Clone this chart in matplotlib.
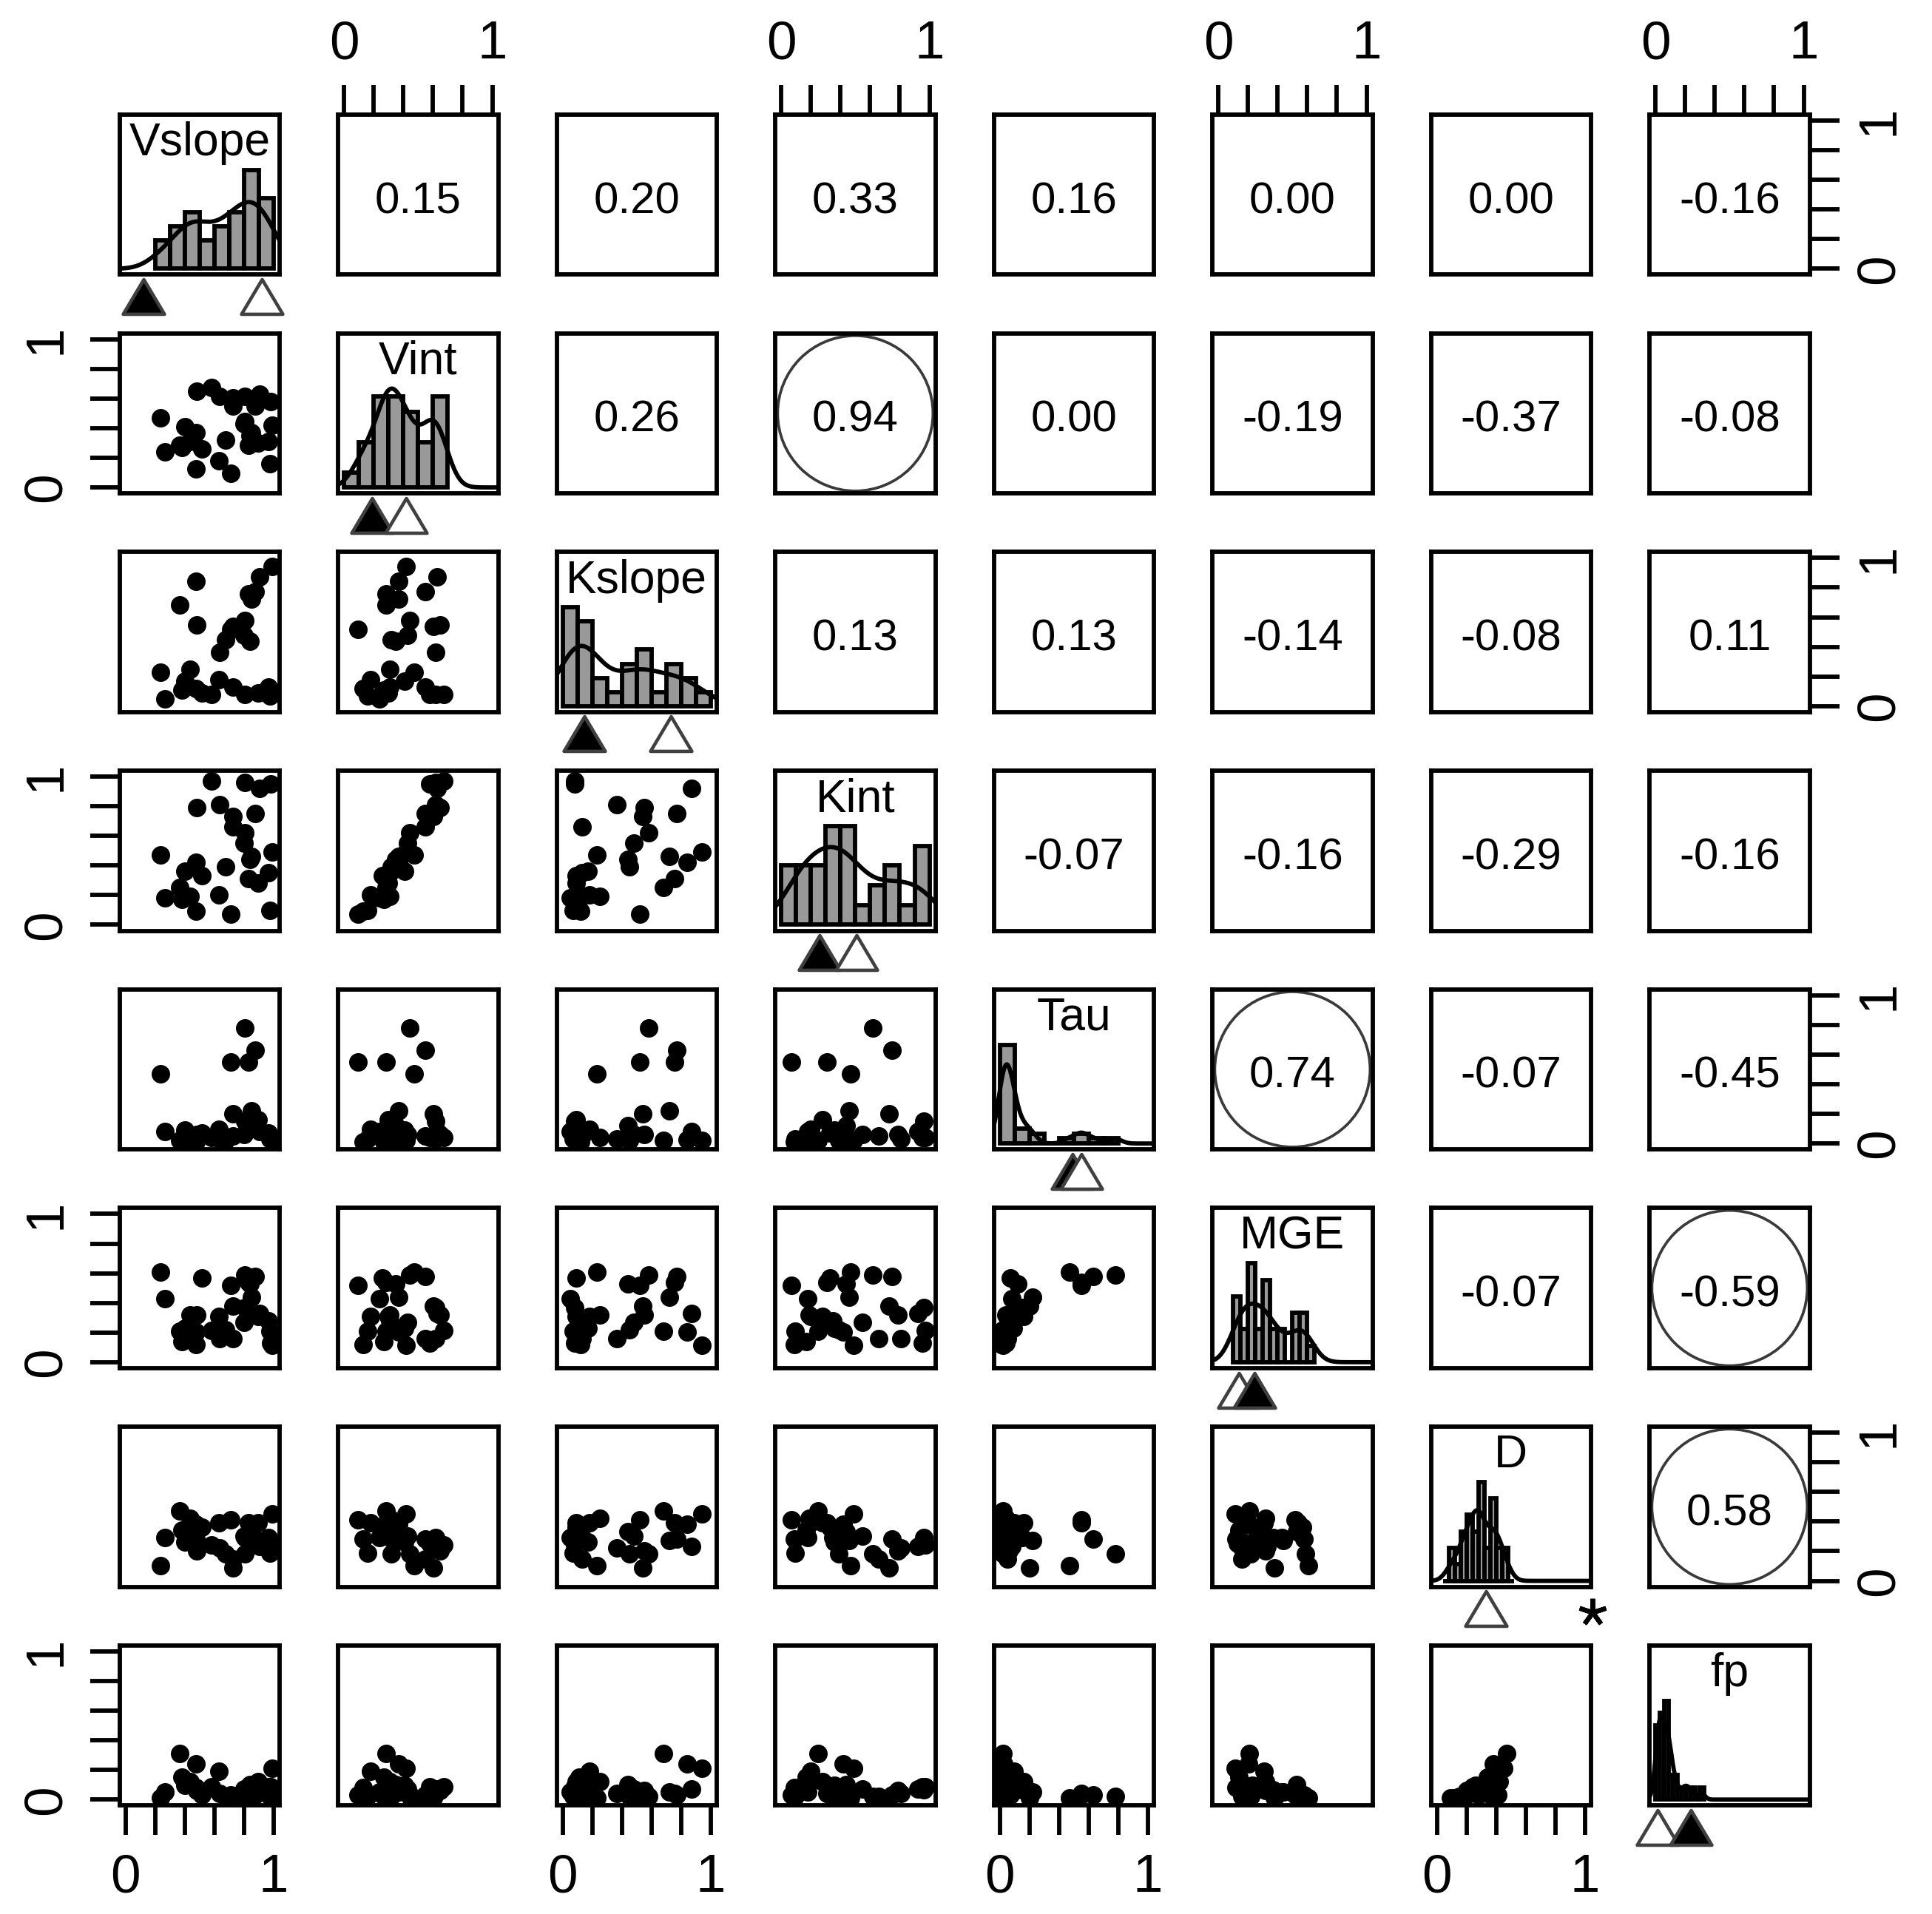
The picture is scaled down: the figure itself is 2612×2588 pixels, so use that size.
import numpy as np
import matplotlib
matplotlib.use("Agg")
import matplotlib.pyplot as plt
import matplotlib.transforms as mtransforms
from matplotlib.patches import Circle
from matplotlib.path import Path

plt.rcParams['font.family'] = ['Liberation Sans', 'DejaVu Sans']

nombres = ["Vslope", "Vint", "Kslope", "Kint", "Tau", "MGE", "D", "fp"]

# valores normalizados (0-1), 30 muestras
vslope = [0.234, 0.267, 0.367, 0.40, 0.434, 0.475, 0.475, 0.483, 0.517, 0.583,
          0.628, 0.633, 0.674, 0.708, 0.724, 0.724, 0.80, 0.807, 0.807, 0.832,
          0.84, 0.874, 0.907, 0.895, 0.965, 0.973, 0.982, 0.99, 0.383, 0.85]
vint = [0.471, 0.24, 0.286, 0.41, 0.31, 0.37, 0.127, 0.648, 0.26, 0.675,
        0.18, 0.616, 0.32, 0.093, 0.603, 0.55, 0.43, 0.616, 0.444, 0.286,
        0.35, 0.55, 0.63, 0.30, 0.31, 0.16, 0.577, 0.42, 0.27, 0.37]
kslope = [0.23, 0.05, 0.68, 0.17, 0.25, 0.84, 0.12, 0.55, 0.09, 0.08,
          0.18, 0.365, 0.45, 0.52, 0.54, 0.13, 0.48, 0.08, 0.58, 0.755,
          0.44, 0.77, 0.87, 0.09, 0.13, 0.07, 0.08, 0.94, 0.11, 0.72]
kint = [0.47, 0.18, 0.25, 0.36, 0.19, 0.42, 0.09, 0.79, 0.33, 0.97,
        0.20, 0.81, 0.39, 0.07, 0.73, 0.66, 0.55, 0.96, 0.62, 0.31,
        0.44, 0.75, 0.92, 0.28, 0.35, 0.095, 0.95, 0.49, 0.17, 0.46]
tau = [0.47, 0.08, 0.02, 0.09, 0.04, 0.025, 0.01, 0.06, 0.07, 0.04,
       0.095, 0.03, 0.02, 0.55, 0.20, 0.05, 0.06, 0.15, 0.78, 0.55,
       0.12, 0.63, 0.08, 0.16, 0.07, 0.03, 0.04, 0.02, 0.01, 0.22]
mge = [0.61, 0.43, 0.21, 0.23, 0.32, 0.205, 0.12, 0.32, 0.57, 0.215,
       0.31, 0.16, 0.22, 0.52, 0.38, 0.16, 0.27, 0.37, 0.59, 0.54,
       0.53, 0.58, 0.33, 0.31, 0.28, 0.21, 0.13, 0.115, 0.14, 0.44]
d = [0.105, 0.29, 0.47, 0.26, 0.42, 0.38, 0.28, 0.20, 0.36, 0.24,
     0.39, 0.22, 0.18, 0.41, 0.09, 0.15, 0.30, 0.29, 0.18, 0.39,
     0.33, 0.28, 0.23, 0.39, 0.29, 0.185, 0.25, 0.45, 0.34, 0.27]
fp = [0.01, 0.05, 0.31, 0.095, 0.12, 0.24, 0.08, 0.06, 0.03, 0.085,
      0.19, 0.04, 0.02, 0.03, 0.01, 0.02, 0.07, 0.065, 0.02, 0.04,
      0.10, 0.03, 0.07, 0.12, 0.085, 0.02, 0.085, 0.21, 0.15, 0.05]
datos = [vslope, vint, kslope, kint, tau, mge, d, fp]

# cortes de los histogramas (inicio, fin, paso)
cortes = [(0.2, 1.0, 0.1), (0.0, 0.7, 0.1), (0.0, 1.0, 0.1), (0.0, 1.0, 0.1),
          (0.0, 0.8, 0.1), (0.1, 0.65, 0.05), (0.04, 0.52, 0.04), (0.0, 0.33, 0.03)]

# triangulos bajo la diagonal (lleno / vacio); D lleno fuera de escala -> *
lleno = [0.12, 0.19, 0.147, 0.259, 0.49, 0.245, 1.3, 0.24]
vacio = [0.92, 0.42, 0.73, 0.508, 0.55, 0.14, 0.33, 0.016]

# correlaciones (triangulo superior, por filas)
corr = [[0.15, 0.20, 0.33, 0.16, 0.00, 0.00, -0.16],
        [0.26, 0.94, 0.00, -0.19, -0.37, -0.08],
        [0.13, 0.13, -0.14, -0.08, 0.11],
        [-0.07, -0.16, -0.29, -0.16],
        [0.74, -0.07, -0.45],
        [-0.07, -0.59],
        [0.58]]

W, H = 2612, 2588
fig = plt.figure(figsize=(W/300, H/300), dpi=300)
pw = 216.5
marcas = np.arange(0, 1.01, 0.2)
etiq = ['0', '', '', '', '', '1']
tri = Path([(-1, -0.84), (1, -0.84), (0, 0.84), (-1, -0.84)],
           [Path.MOVETO, Path.LINETO, Path.LINETO, Path.CLOSEPOLY])
lw_eje = 1.4

for i in range(8):
    for j in range(8):
        left = (161.6 + j*295.5)/W
        bottom = 1 - (154.9 + i*295.7 + pw)/H
        ax = fig.add_axes([left, bottom, pw/W, pw/H])
        for s in ax.spines.values():
            s.set_linewidth(lw_eje)
        ax.set_xticks([])
        ax.set_yticks([])
        ax.set_xlim(-0.04, 1.04)

        if i == j:
            vals = np.array(datos[i])
            n = len(vals)
            a, b, paso = cortes[i]
            edges = np.arange(a, b + paso/2, paso)
            cnt, _ = np.histogram(vals, bins=edges)
            dens = cnt/(n*np.diff(edges))
            q75, q25 = np.percentile(vals, [75, 25])
            bw = 0.9*min(np.std(vals, ddof=1), (q75-q25)/1.34)*n**-0.2
            grid = np.linspace(-0.2, 1.2, 600)
            kde = np.exp(-0.5*((grid[:, None]-vals[None, :])/bw)**2).sum(1)/(n*bw*np.sqrt(2*np.pi))
            M = max(dens.max(), kde.max())
            ax.bar(edges[:-1], dens, width=np.diff(edges), align='edge',
                   color='#999999', edgecolor='black', linewidth=1.4)
            ax.plot(grid, kde, color='black', lw=1.4)
            ax.set_ylim(-0.06*M, 1.56*M)
            ax.text(0.5, 0.745, nombres[i], transform=ax.transAxes,
                    ha='center', va='baseline', fontsize=15)
            tr = mtransforms.blended_transform_factory(ax.transData, ax.transAxes)
            pares = sorted([(lleno[i], 'black'), (vacio[i], 'white')])
            for x, c in pares:
                if x > 1.04:
                    ax.plot([1.05], [-0.16], transform=tr, marker=(5, 2, 0),
                            ms=9, mew=1.5, color='black', clip_on=False)
                else:
                    ax.plot([x], [-0.137], transform=tr, marker=tri, ms=13.4,
                            mfc=c, mec='#404040', mew=1.1, ls='none', clip_on=False)
        elif i > j:
            ax.set_ylim(-0.04, 1.04)
            ax.plot(datos[j], datos[i], 'o', ms=6, color='black', mew=0)
        else:
            ax.set_ylim(-0.04, 1.04)
            r = corr[i][j-i-1]
            ax.text(0.5, 0.385, "%.2f" % r, transform=ax.transAxes,
                    ha='center', va='baseline', fontsize=14.4)
            if abs(r) > 0.5:
                ax.add_patch(Circle((0.5, 0.5), 0.485, transform=ax.transAxes,
                                    fill=False, ec='#3a3a3a', lw=0.9))

        # ejes alternados
        if i == 0 and j % 2 == 1:
            ax.set_xticks(marcas)
            ax.set_xticklabels(etiq)
            ax.tick_params(axis='x', top=True, bottom=False, labeltop=True,
                           labelbottom=False, length=9.6, width=lw_eje, pad=5, labelsize=17.5)
        if i == 7 and j % 2 == 0:
            ax.set_xticks(marcas)
            ax.set_xticklabels(etiq)
            ax.tick_params(axis='x', length=9.6, width=lw_eje, pad=6, labelsize=17.5)
        if j == 0 and i % 2 == 1:
            ax.set_yticks(marcas)
            ax.set_yticklabels(etiq, rotation=90, va='center')
            ax.tick_params(axis='y', length=9.6, width=lw_eje, pad=6, labelsize=17.5)
        if j == 7 and i % 2 == 0:
            ax.set_yticks(marcas)
            ax.set_yticklabels(etiq, rotation=90, va='center')
            ax.tick_params(axis='y', left=False, right=True, labelleft=False,
                           labelright=True, length=9.6, width=lw_eje, pad=5, labelsize=17.5)

plt.savefig("out.png", dpi=300)
